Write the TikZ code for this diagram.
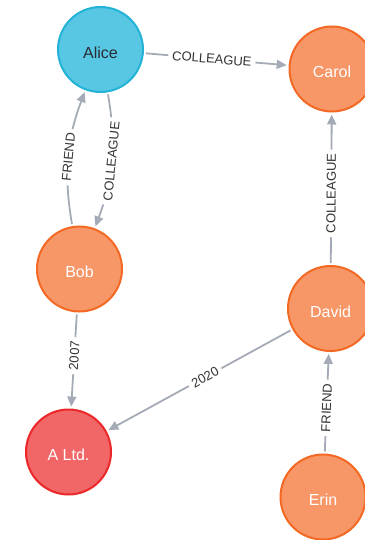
\documentclass[tikz,border=0pt]{standalone}
\usepackage{fontspec}
\setmainfont{Liberation Sans}
\usetikzlibrary{arrows.meta}

\definecolor{bluefill}{HTML}{57C7E3}
\definecolor{blueline}{HTML}{23B3D7}
\definecolor{orangefill}{HTML}{F79767}
\definecolor{orangeline}{HTML}{F36924}
\definecolor{redfill}{HTML}{F16667}
\definecolor{redline}{HTML}{EB2728}
\definecolor{relgrey}{HTML}{A5ABB6}
\definecolor{labelgrey}{HTML}{333333}
\definecolor{darktext}{HTML}{2A2C34}

\begin{document}
\begin{tikzpicture}[x=1pt,y=1pt,
  entity/.style={circle, minimum size=85pt, inner sep=0pt, line width=2pt,
    font=\fontsize{16}{19}\selectfont, text=white,
    text height=17.5pt, text depth=0pt},
  personblue/.style={entity, fill=bluefill, draw=blueline, text=darktext},
  person/.style={entity, fill=orangefill, draw=orangeline},
  company/.style={entity, fill=redfill, draw=redline},
  rel/.style={draw=relgrey, line width=1.8pt, -{Triangle[length=10pt,width=9pt]},
    shorten >=2pt, shorten <=2pt},
  rellabel/.style={fill=white, text=labelgrey, font=\fontsize{13}{15}\selectfont,
    inner xsep=4pt, inner ysep=1pt}
]
\useasboundingbox (0,0) rectangle (364,-540);

% people and the company
\node[personblue] (alice) at (100.5,-49.5) {Alice};
\node[person]     (carol) at (332,-69)     {Carol};
\node[person]     (bob)   at (79.5,-269)   {Bob};
\node[person]     (david) at (330.5,-308.5) {David};
\node[company]    (altd)  at (68.5,-452)   {A Ltd.};
\node[person]     (erin)  at (323,-497)    {Erin};

% relationships
\draw[rel] (alice) -- node[rellabel, pos=0.47, rotate=-4.8] {COLLEAGUE} (carol);
\draw[rel] (bob) to[bend left=15] node[rellabel, pos=0.5, rotate=84.5] {FRIEND} (alice);
\draw[rel] (alice) to[bend left=15] node[rellabel, pos=0.5, rotate=84.5] {COLLEAGUE} (bob);
\draw[rel] (david) -- node[rellabel, pos=0.47, rotate=89.6] {COLLEAGUE} (carol);
\draw[rel] (bob) -- node[rellabel, pos=0.45, rotate=86.6] {2007} (altd);
\draw[rel] (david) -- node[rellabel, pos=0.47, rotate=28.7] {2020} (altd);
\draw[rel] (erin) -- node[rellabel, pos=0.45, rotate=87.7] {FRIEND} (david);
\end{tikzpicture}
\end{document}
